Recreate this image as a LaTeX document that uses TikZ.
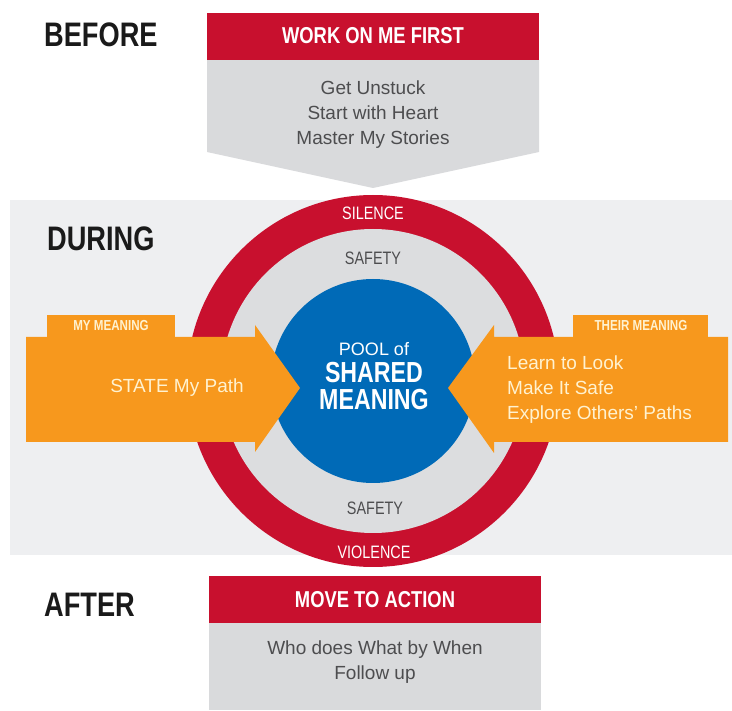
\documentclass[tikz,border=0pt]{standalone}
\usepackage{fontspec}
\setmainfont{Liberation Sans}
\newfontfamily\narrowfont{Liberation Sans}[FakeStretch=0.8]
\usetikzlibrary{calc}

\definecolor{barred}{RGB}{200,16,46}
\definecolor{boxgray}{RGB}{217,218,220}
\definecolor{bandgray}{RGB}{238,239,241}
\definecolor{ringgray}{RGB}{220,221,223}
\definecolor{poolblue}{RGB}{0,106,183}
\definecolor{pathorange}{RGB}{247,152,29}
\definecolor{cream}{RGB}{255,242,208}
\definecolor{stepink}{RGB}{77,77,79}
\definecolor{headink}{RGB}{26,26,26}

\tikzset{
  stage/.style={font=\narrowfont\bfseries\fontsize{34}{34}\selectfont, text=headink, inner sep=0pt, anchor=west},
  bartitle/.style={font=\narrowfont\bfseries\fontsize{23}{23}\selectfont, text=white, inner sep=0pt},
  steps/.style={font=\fontsize{19}{25}\selectfont, text=stepink, align=center, inner sep=0pt},
  tabtitle/.style={font=\narrowfont\bfseries\fontsize{14.5}{14.5}\selectfont, text=cream, inner sep=0pt},
  ringword/.style={font=\narrowfont\fontsize{18}{18}\selectfont, inner sep=0pt},
  bigword/.style={font=\narrowfont\bfseries\fontsize{29}{29}\selectfont, text=white, inner sep=0pt},
}

\begin{document}
\begin{tikzpicture}[x=1pt, y=-1pt, line join=round]
  \useasboundingbox (0,0) rectangle (732,711);
  \fill[white] (0,0) rectangle (732,711);
  \fill[bandgray] (10,200) rectangle (732,555);

  % rings round the pool
  \coordinate (O) at (373,381);
  \fill[barred] (O) circle[radius=186];
  \fill[ringgray] (O) circle[radius=152];
  \fill[poolblue] (O) circle[radius=102];

  % before and after boxes
  \fill[boxgray] (207,60) -- (539,60) -- (539,152) -- (373,188) -- (207,152) -- cycle;
  \fill[barred] (207,13) rectangle (539,60);
  \fill[barred] (209,576) rectangle (541,623);
  \fill[boxgray] (209,623) rectangle (541,710);

  % the two meaning arrows
  \fill[pathorange] (47,315) rectangle (175,338);
  \fill[pathorange] (26,337) -- (255,337) -- (255,325) -- (300,388) -- (255,452) -- (255,442) -- (26,442) -- cycle;
  \fill[pathorange] (573,315) rectangle (708,338);
  \fill[pathorange] (728,337) -- (494,337) -- (494,325) -- (448,388) -- (494,453) -- (494,442) -- (728,442) -- cycle;

  \node[stage] (before) at (44,35) {BEFORE};
  \node[stage] (during) at (47,239) {DURING};
  \node[stage] (after) at (44,605) {AFTER};

  \node[bartitle] (first) at (373,36) {WORK ON ME FIRST};
  \node[steps] (selfwork) at (373,115) {Get Unstuck\\Start with Heart\\Master My Stories};
  \node[bartitle] (action) at (375,600) {MOVE TO ACTION};
  \node[steps] (followup) at (375,662) {Who does What by When\\Follow up};

  \node[ringword, text=white] (silence) at (373,213) {SILENCE};
  \node[ringword, text=stepink] (safetytop) at (373,258) {SAFETY};
  \node[ringword, text=stepink] (safetybot) at (375,508) {SAFETY};
  \node[ringword, text=white] (violence) at (374,552) {VIOLENCE};

  \node[font=\fontsize{18}{18}\selectfont, text=white, inner sep=0pt] (poolof) at (374,349) {POOL of};
  \node[bigword] (shared) at (374,373) {SHARED};
  \node[bigword] (meaning) at (374,400) {MEANING};

  \node[tabtitle] (mine) at (111,326) {MY MEANING};
  \node[tabtitle] (theirs) at (641,326) {THEIR MEANING};
  \node[steps, text=cream] (state) at (177,388) {STATE My Path};
  \node[steps, text=cream, align=left, anchor=west] (explore) at (507,390) {Learn to Look\\Make It Safe\\Explore Others’ Paths};
\end{tikzpicture}
\end{document}
